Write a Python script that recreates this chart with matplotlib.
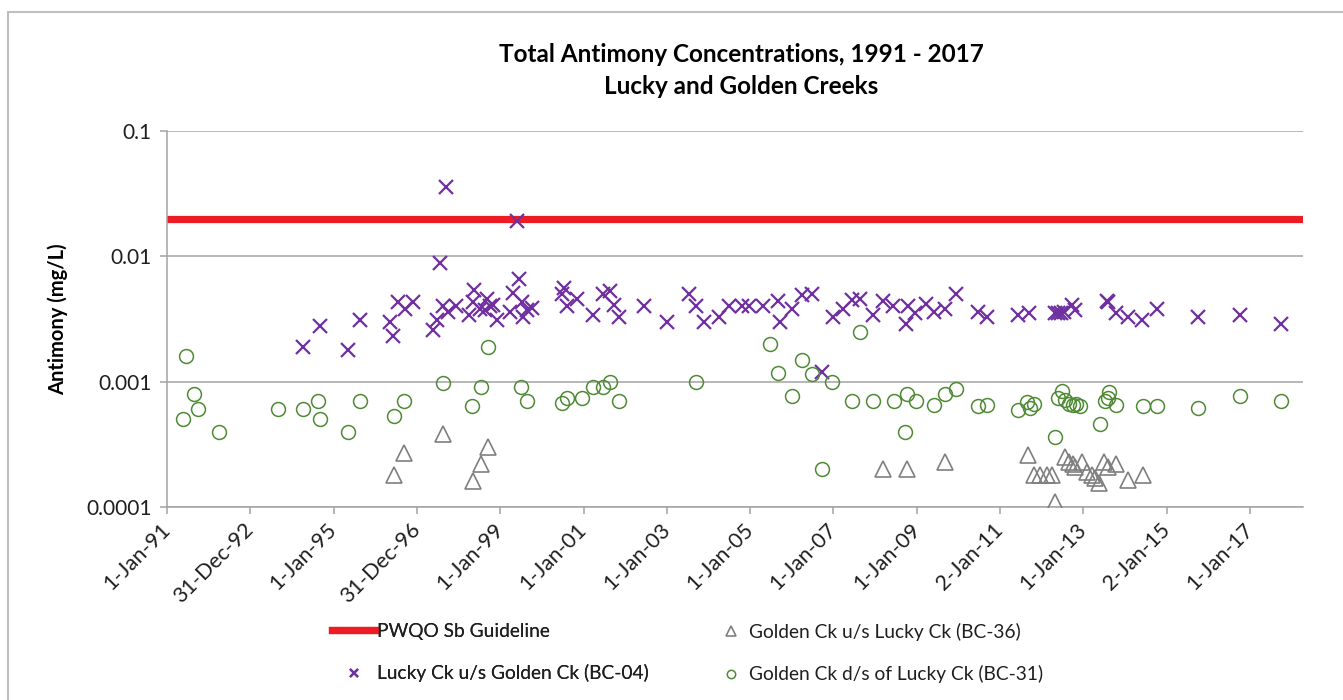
import numpy as np
import pandas as pd
import matplotlib
matplotlib.use("Agg")
import matplotlib.pyplot as plt
from matplotlib.ticker import FixedLocator, FixedFormatter, NullLocator
from matplotlib.patches import Rectangle

plt.rcParams["font.family"] = ["Lato", "DejaVu Sans"]

# ---------------------------------------------------------------------------
# Data (dates as decimal years, concentrations in mg/L)
# ---------------------------------------------------------------------------
GUIDELINE = 0.02  # PWQO Sb guideline, mg/L

BC04_YEAR = [1994.27, 1994.68, 1995.35, 1995.63, 1996.35, 1996.43, 1996.55, 1996.71,
             1996.90, 1997.39, 1997.48, 1997.56, 1997.63, 1997.69, 1997.75, 1997.94,
             1998.26, 1998.35, 1998.38, 1998.52, 1998.64, 1998.68, 1998.76, 1998.82,
             1998.92, 1999.24, 1999.31, 1999.40, 1999.46, 1999.52, 1999.55, 1999.64,
             1999.76, 2000.48, 2000.52, 2000.61, 2000.84, 2001.22, 2001.46, 2001.64,
             2001.72, 2001.86, 2002.45, 2003.00, 2003.52, 2003.70, 2003.89, 2004.24,
             2004.48, 2004.80, 2004.96, 2005.32, 2005.68, 2005.72, 2006.00, 2006.24,
             2006.49, 2006.72, 2006.98, 2007.22, 2007.44, 2007.64, 2007.96, 2008.18,
             2008.44, 2008.74, 2008.80, 2008.96, 2009.22, 2009.42, 2009.68, 2009.94,
             2010.46, 2010.68, 2011.44, 2011.70, 2012.32, 2012.39, 2012.47, 2012.54,
             2012.72, 2012.80, 2013.56, 2013.60, 2013.79, 2014.08, 2014.40, 2014.76,
             2015.75, 2016.75, 2017.74]
BC04_SB = [0.0019, 0.0028, 0.0018, 0.0031, 0.0030, 0.0023, 0.0043, 0.0038,
           0.0043, 0.0026, 0.0031, 0.0089, 0.0040, 0.036, 0.0036, 0.0040,
           0.0034, 0.0043, 0.0054, 0.0038, 0.0037, 0.0046, 0.0040, 0.0041,
           0.0031, 0.0036, 0.0051, 0.019, 0.0066, 0.0043, 0.0033, 0.0037,
           0.0039, 0.0050, 0.0056, 0.0040, 0.0046, 0.0034, 0.0050, 0.0053,
           0.0041, 0.0033, 0.0040, 0.0030, 0.0050, 0.0040, 0.0030, 0.0033,
           0.0040, 0.0040, 0.0040, 0.0040, 0.0044, 0.0030, 0.0038, 0.0049,
           0.0050, 0.0012, 0.0033, 0.0038, 0.0045, 0.0046, 0.0034, 0.0044,
           0.0040, 0.0029, 0.0040, 0.0035, 0.0042, 0.0036, 0.0038, 0.0050,
           0.0036, 0.0033, 0.0034, 0.0035, 0.0035, 0.0035, 0.0035, 0.0036,
           0.0041, 0.0037, 0.0044, 0.0043, 0.0035, 0.0033, 0.0031, 0.0038,
           0.0033, 0.0034, 0.0029]

BC31_YEAR = [1991.38, 1991.45, 1991.65, 1991.75, 1992.24, 1993.66, 1994.26, 1994.62,
             1994.67, 1995.35, 1995.63, 1996.44, 1996.68, 1997.62, 1998.32, 1998.53,
             1998.71, 1999.49, 1999.64, 2000.48, 2000.60, 2000.97, 2001.22, 2001.46,
             2001.64, 2001.85, 2003.69, 2005.48, 2005.66, 2006.00, 2006.24, 2006.49,
             2006.73, 2006.97, 2007.45, 2007.64, 2007.96, 2008.46, 2008.72, 2008.77,
             2008.98, 2009.42, 2009.68, 2009.94, 2010.46, 2010.68, 2011.44, 2011.64,
             2011.72, 2011.82, 2012.32, 2012.40, 2012.48, 2012.56, 2012.66, 2012.75,
             2012.82, 2012.92, 2013.40, 2013.52, 2013.58, 2013.62, 2013.79, 2014.42,
             2014.76, 2015.75, 2016.75, 2017.74]
BC31_SB = [0.0005, 0.0016, 0.0008, 0.0006, 0.0004, 0.0006, 0.0006, 0.0007,
           0.0005, 0.0004, 0.0007, 0.00053, 0.0007, 0.00097, 0.00064, 0.0009,
           0.0019, 0.0009, 0.0007, 0.00068, 0.00074, 0.00074, 0.0009, 0.0009,
           0.0010, 0.0007, 0.0010, 0.0020, 0.00117, 0.00077, 0.0015, 0.00115,
           0.0002, 0.0010, 0.0007, 0.0025, 0.0007, 0.0007, 0.0004, 0.0008,
           0.0007, 0.00065, 0.00079, 0.00088, 0.00064, 0.00065, 0.00059, 0.00069,
           0.00062, 0.00066, 0.00036, 0.00074, 0.00084, 0.00072, 0.00066, 0.00065,
           0.00066, 0.00064, 0.00046, 0.0007, 0.00074, 0.00082, 0.00065, 0.00064,
           0.00064, 0.00062, 0.00077, 0.0007]

BC36_YEAR = [1996.45, 1996.69, 1997.62, 1998.34, 1998.53, 1998.71, 2008.18, 2008.77,
             2009.68, 2011.66, 2011.82, 2011.96, 2012.12, 2012.24, 2012.32, 2012.56,
             2012.66, 2012.75, 2012.80, 2012.96, 2013.08, 2013.20, 2013.28, 2013.38,
             2013.50, 2013.60, 2013.79, 2014.08, 2014.42]
BC36_SB = [0.00018, 0.00027, 0.00038, 0.00016, 0.00022, 0.00030, 0.00020, 0.00020,
           0.00023, 0.00026, 0.00018, 0.00018, 0.00018, 0.00018, 0.00011, 0.00025,
           0.00023, 0.00022, 0.00021, 0.00023, 0.00019, 0.00018, 0.00017, 0.000155,
           0.00023, 0.00021, 0.00022, 0.000165, 0.00018]

XTICK_LABELS = ["1-Jan-91", "31-Dec-92", "1-Jan-95", "31-Dec-96", "1-Jan-99",
                "1-Jan-01", "1-Jan-03", "1-Jan-05", "1-Jan-07", "1-Jan-09",
                "2-Jan-11", "1-Jan-13", "2-Jan-15", "1-Jan-17"]
YTICKS = [0.0001, 0.001, 0.01, 0.1]
YTICK_LABELS = ["0.0001", "0.001", "0.01", "0.1"]
X_START, X_END = "1991-01-01", "2018-04-10"

LABELS = ["PWQO Sb Guideline", "Lucky Ck u/s Golden Ck (BC-04)",
          "Golden Ck u/s Lucky Ck (BC-36)", "Golden Ck d/s of Lucky Ck (BC-31)"]


def to_dates(years):
    years = np.asarray(years, dtype=float)
    return pd.Timestamp("1991-01-01") + pd.to_timedelta((years - 1991.0) * 365.25, unit="D")


# ---------------------------------------------------------------------------
# Figure
# ---------------------------------------------------------------------------
W, H = 1343, 700
fig = plt.figure(figsize=(W / 100, H / 100), dpi=100)
ax = fig.add_axes([167 / W, 1 - 507 / H, 1136 / W, 376 / H])

GRID = "#a3a3a3"
TXT = "#1f1f1f"
guide = ax.axhline(GUIDELINE, color="#ed1c24", lw=5.2, zorder=2, label=LABELS[0])
tri, = ax.plot(to_dates(BC36_YEAR), BC36_SB, ls="none", marker="^", ms=11.5,
               mfc="none", mec="#7f7f7f", mew=1.2, zorder=3, label=LABELS[2])
crs, = ax.plot(to_dates(BC04_YEAR), BC04_SB, ls="none", marker="x", ms=10,
               mec="#7030a0", mew=1.6, zorder=4, label=LABELS[1])
cir, = ax.plot(to_dates(BC31_YEAR), BC31_SB, ls="none", marker="o", ms=10,
               mfc="none", mec="#4f8a35", mew=1.1, zorder=5, label=LABELS[3])

ax.set_yscale("log")
ax.set_ylim(YTICKS[0], YTICKS[-1])
ax.yaxis.set_major_locator(FixedLocator(YTICKS))
ax.yaxis.set_major_formatter(FixedFormatter(YTICK_LABELS))
ax.yaxis.set_minor_locator(NullLocator())
ax.grid(axis="y", color=GRID, lw=1.1, zorder=1)

ax.set_xlim(pd.Timestamp(X_START), pd.Timestamp(X_END))
ax.set_xticks(pd.to_datetime(XTICK_LABELS, format="%d-%b-%y"))
ax.set_xticklabels(XTICK_LABELS, rotation=45, ha="right", va="center",
                   rotation_mode="anchor")
ax.xaxis.set_minor_locator(NullLocator())

for side in ("top", "right"):
    ax.spines[side].set_visible(False)
for side in ("left", "bottom"):
    ax.spines[side].set_color(GRID)
    ax.spines[side].set_linewidth(1.1)
ax.tick_params(axis="both", colors=GRID, length=5, width=1.1, labelcolor=TXT)
ax.tick_params(axis="x", pad=9, labelsize=15.5)
ax.tick_params(axis="y", pad=6, labelsize=15)

# Titles
fig.text(741 / W, 1 - 55 / H, "Total Antimony Concentrations, 1991 - 2017",
         ha="center", va="center", fontsize=17.5, fontweight="bold", color="black")
fig.text(741 / W, 1 - 87 / H, "Lucky and Golden Creeks",
         ha="center", va="center", fontsize=17.5, fontweight="bold", color="black")
fig.text(58 / W, 1 - 319 / H, "Antimony (mg/L)", rotation=90, ha="center",
         va="center", fontsize=14.5, fontweight="bold", color="black")

# Legend (two columns, as in the original)
leg1 = fig.legend([guide, crs], [LABELS[0], LABELS[1]], loc="upper left",
                  bbox_to_anchor=(332 / W, 1 - 623 / H), frameon=False,
                  fontsize=13.8, handlelength=2.25, handletextpad=0.1,
                  labelspacing=1.27, borderpad=0, borderaxespad=0, markerscale=0.6,
                  labelcolor=TXT)
fig.legend([tri, cir], [LABELS[2], LABELS[3]], loc="upper left",
           bbox_to_anchor=(721 / W, 1 - 623 / H), frameon=False,
           fontsize=13.8, handlelength=1.0, handletextpad=0.45,
           labelspacing=1.27, borderpad=0, borderaxespad=0, markerscale=0.6,
           labelcolor=TXT)
fig.add_artist(leg1)

# Chart-area border
fig.add_artist(Rectangle((8 / W, -0.1), 1.2, 1 - 12 / H + 0.1, transform=fig.transFigure,
                         fill=False, edgecolor="#bfbfbf", lw=1.5, clip_on=False))

fig.savefig("out.png", dpi=100)
